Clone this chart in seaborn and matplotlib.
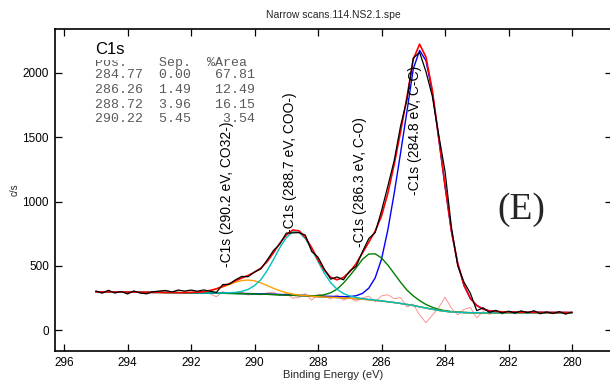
import numpy as np
import pandas as pd
import matplotlib
matplotlib.use("Agg")
import matplotlib.pyplot as plt
import seaborn as sns

# ---------------- data ----------------
binding_energy = np.round(np.arange(295.0, 279.95, -0.2), 1)  # 295.0 ... 280.0 eV

background = [298, 297, 297, 296, 296, 295, 295, 294, 294, 293,
              293, 292, 292, 291, 290, 290, 289, 288, 288, 287,
              286, 285, 284, 283, 282, 281, 279, 278, 276, 274,
              272, 270, 267, 265, 262, 259, 257, 255, 253, 250,
              247, 244, 240, 236, 231, 226, 220, 214, 207, 199,
              191, 181, 171, 162, 153, 146, 141, 138, 136, 135,
              135, 134, 134, 134, 134, 134, 134, 134, 134, 134,
              134, 134, 134, 134, 134, 134]

# component heights above the background
cc_peak = [0, 0, 0, 0, 0, 0, 0, 0, 0, 0,
           0, 0, 0, 0, 0, 0, 0, 0, 0, 0,
           2, 2, 2, 2, 2, 2, 2, 2, 3, 3,
           3, 3, 4, 4, 5, 5, 6, 7, 8, 10,
           13, 23, 45, 90, 175, 325, 560, 850, 1170, 1500,
           1840, 1995, 1925, 1690, 1340, 975, 630, 380, 210, 110,
           56, 29, 15, 11, 8, 7, 6, 5, 5, 4,
           4, 3, 3, 3, 3, 2]
co_peak = [0, 0, 0, 0, 0, 0, 0, 0, 0, 0,
           0, 0, 0, 0, 0, 0, 0, 0, 0, 0,
           0, 0, 0, 0, 0, 0, 0, 0, 0, 0,
           0, 1, 2, 3, 5, 9, 18, 35, 65, 115,
           175, 240, 310, 355, 362, 335, 285, 225, 165, 112,
           75, 48, 28, 15, 8, 5, 3, 2, 1, 0,
           0, 0, 0, 0, 0, 0, 0, 0, 0, 0,
           0, 0, 0, 0, 0, 0]
coo_peak = [0, 0, 0, 0, 0, 0, 0, 0, 0, 0,
            0, 0, 0, 0, 0, 0, 0, 0, 1, 2,
            3, 5, 9, 18, 34, 65, 113, 185, 274, 368,
            446, 494, 494, 446, 368, 274, 185, 113, 65, 34,
            18, 9, 5, 3, 2, 1, 0, 0, 0, 0,
            0, 0, 0, 0, 0, 0, 0, 0, 0, 0,
            0, 0, 0, 0, 0, 0, 0, 0, 0, 0,
            0, 0, 0, 0, 0, 0]
co3_peak = [0, 0, 0, 0, 0, 0, 0, 0, 0, 0,
            0, 0, 0, 0, 1, 3, 5, 10, 19, 32,
            49, 68, 88, 102, 107, 102, 88, 68, 49, 32,
            19, 10, 5, 3, 1, 0, 0, 0, 0, 0,
            0, 0, 0, 0, 0, 0, 0, 0, 0, 0,
            0, 0, 0, 0, 0, 0, 0, 0, 0, 0,
            0, 0, 0, 0, 0, 0, 0, 0, 0, 0,
            0, 0, 0, 0, 0, 0]

raw_counts = [304, 287, 309, 288, 300, 281, 304, 288, 282, 298,
              303, 308, 296, 311, 303, 311, 302, 312, 302, 293,
              354, 356, 391, 417, 415, 452, 476, 545, 620, 669,
              754, 756, 758, 739, 611, 567, 474, 396, 413, 391,
              459, 496, 610, 712, 758, 927, 1120, 1319, 1587, 1791,
              2116, 2160, 2010, 1820, 1521, 1236, 804, 500, 372, 285,
              151, 173, 137, 153, 132, 147, 132, 149, 135, 150,
              128, 141, 129, 143, 125, 140]

peak_labels = ["-C1s (290.2 eV, CO32-)", "-C1s (288.7 eV, COO-)",
               "-C1s (286.3 eV, C-O)", "-C1s (284.8 eV, C-C)"]
label_x = [290.87, 288.88, 286.68, 284.94]
label_y = [490, 755, 646, 1051]

table_header = "Pos.    Sep.  %Area"
table_pos = ["284.77", "286.26", "288.72", "290.22"]
table_sep = ["0.00", "1.49", "3.96", "5.45"]
table_area = ["67.81", "12.49", "16.15", "3.54"]

x_ticks = [296, 294, 292, 290, 288, 286, 284, 282, 280]
y_ticks = [0, 500, 1000, 1500, 2000]

# ---------------- build table ----------------
bg = np.array(background, float)
df = pd.DataFrame({
    "BE": binding_energy,
    "bg": bg,
    "cc": bg + np.array(cc_peak),
    "co": bg + np.array(co_peak),
    "coo": bg + np.array(coo_peak),
    "co3": bg + np.array(co3_peak),
    "raw": np.array(raw_counts, float),
})
df["env"] = bg + np.array(cc_peak) + np.array(co_peak) + np.array(coo_peak) + np.array(co3_peak)
df["resid"] = bg + df["raw"] - df["env"]

# ---------------- figure ----------------
sns.set_theme(style="ticks")
plt.rcParams['font.family'] = ['Liberation Sans', 'DejaVu Sans']
W, H = 610, 383
fig = plt.figure(figsize=(W / 100, H / 100), dpi=100)
ax = fig.add_axes([54.5 / W, (H - 351) / H, (612 - 54.5) / W, (351 - 29) / H])

def draw(col, color, lw, z, alpha=1.0):
    sns.lineplot(data=df, x="BE", y=col, ax=ax, color=color, lw=lw,
                 estimator=None, sort=False, zorder=z, alpha=alpha)

draw("resid", "#ff5a5a", 0.6, 2, 0.75)
draw("bg", "#1f5f3f", 1.0, 3)
draw("cc", "#0000ff", 1.0, 4)
draw("co", "#008000", 1.0, 4)
draw("co3", "#ffa000", 1.0, 4)
draw("coo", "#00bfbf", 1.0, 5)
draw("env", "#ff0000", 1.2, 6)
draw("raw", "#000000", 0.9, 7)

ax.set_xlim(296.3, 278.74)
ax.set_ylim(-163, 2342)
ax.set_xticks(x_ticks)
ax.set_xticklabels([str(t) for t in x_ticks])
ax.set_yticks(y_ticks)
ax.set_yticklabels([str(t) for t in y_ticks])
ax.tick_params(direction="in", length=5, width=0.9, top=True, right=True,
               labelsize=8.5, colors="black", pad=4)
for s in ax.spines.values():
    s.set_linewidth(1.2)
    s.set_color("black")
ax.set_xlabel("")
ax.set_ylabel("")

# peak labels
for txt, lx, ly in zip(peak_labels, label_x, label_y):
    ax.text(lx, ly, txt, rotation=90, ha="center", va="bottom", fontsize=10,
            color="black", zorder=8)

# (E)
fig.text(521 / W, 1 - 210 / H, "(E)", ha="center", va="center", fontsize=27,
         family=["Liberation Serif", "DejaVu Serif"])

# table
mono = ["Liberation Mono", "DejaVu Sans Mono"]
fig.text(95 / W, 1 - 63 / H, table_header, ha="left", va="center", fontsize=9.5,
         family=mono, color="#5a5a5a", zorder=9)
for k, (p, s, a) in enumerate(zip(table_pos, table_sep, table_area)):
    row = f"{p}  {s}  {a:>6}"
    fig.text(95 / W, 1 - (75.5 + 14.5 * k) / H, row, ha="left", va="center",
             fontsize=9.5, family=mono, color="#5a5a5a", zorder=9)
fig.text(95 / W, 1 - 49 / H, "C1s", ha="left", va="center", fontsize=12,
         color="black", zorder=10,
         bbox=dict(facecolor="white", edgecolor="none", pad=2.6))

# titles / axis labels
fig.text(333 / W, 1 - 15 / H, "Narrow scans.114.NS2.1.spe", ha="center",
         va="center", fontsize=7.5)
fig.text(333 / W, 1 - 375 / H, "Binding Energy (eV)", ha="center",
         va="center", fontsize=8)
fig.text(15 / W, 1 - 190 / H, "c/s", ha="center", va="center", fontsize=7,
         rotation=90)

fig.savefig("out.png", dpi=100)
